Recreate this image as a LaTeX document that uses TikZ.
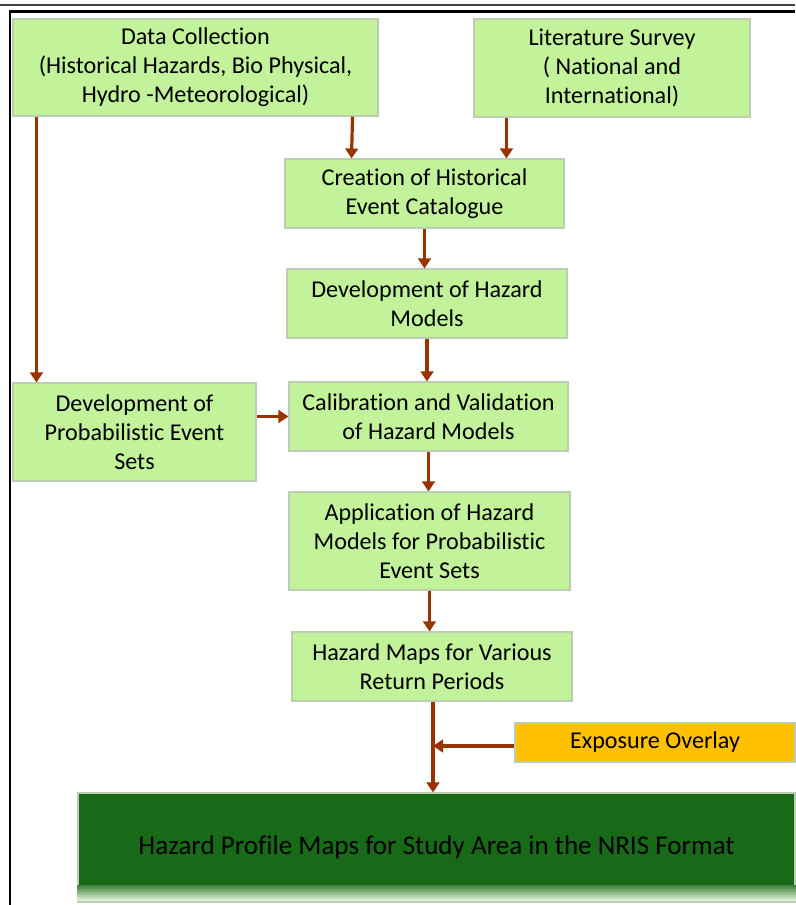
\documentclass[tikz,border=0pt]{standalone}
\usepackage{fontspec}
\setmainfont{Carlito}[Ligatures=NoCommon]
\usetikzlibrary{arrows.meta}
\definecolor{boxgreen}{HTML}{C2F29A}
\definecolor{boxline}{HTML}{BCCDB4}
\definecolor{flowbrown}{HTML}{993300}
\definecolor{expgold}{HTML}{FFC000}
\definecolor{darkgreen}{HTML}{186A18}
\definecolor{palegreen}{HTML}{E4F2D8}
\tikzset{
    stepnode/.style={draw=boxline, line width=0.8pt, fill=boxgreen, align=center,
        inner sep=0pt, font=\fontsize{18.1}{21.8}\selectfont},
    flow/.style={draw=flowbrown, line width=2.4pt, -{Triangle[length=7.5pt,width=9.5pt]}},
}
\begin{document}
\begin{tikzpicture}[x=0.75pt, y=-0.75pt]
                \useasboundingbox (0,0) rectangle (795,905);
                % page frame
                \draw[line width=1.2pt, black!75] (0,5) -- (795,5);
                \draw[line width=1.6pt] (10,905) -- (10,11.5) -- (795,11.5);
                % boxes
                \node[stepnode, minimum width=365*0.75pt, minimum height=97*0.75pt] (datacoll) at (195.5,67.5)
                    {Data Collection\\(Historical Hazards, Bio Physical,\\Hydro -Meteorological)};
                \node[stepnode, minimum width=276*0.75pt, minimum height=98*0.75pt] (litsurvey) at (612,68)
                    {Literature Survey\\( National and\\International)};
                \node[stepnode, minimum width=279*0.75pt, minimum height=69*0.75pt] (catalogue) at (424.5,193.5)
                    {Creation of Historical\\Event Catalogue};
                \node[stepnode, minimum width=280*0.75pt, minimum height=69*0.75pt] (models) at (427,303.5)
                    {Development of Hazard\\Models};
                \node[stepnode, minimum width=243*0.75pt, minimum height=98*0.75pt] (probsets) at (134.5,432)
                    {Development of\\Probabilistic Event\\Sets};
                \node[stepnode, minimum width=279*0.75pt, minimum height=69*0.75pt] (calib) at (428.5,416.5)
                    {Calibration and Validation\\of Hazard Models};
                \node[stepnode, minimum width=281*0.75pt, minimum height=98*0.75pt] (applic) at (429.5,541)
                    {Application of Hazard\\Models for Probabilistic\\Event Sets};
                \node[stepnode, minimum width=280*0.75pt, minimum height=69*0.75pt] (maps) at (432,666.5)
                    {Hazard Maps for Various\\Return Periods};
                \node[stepnode, fill=expgold, minimum width=280*0.75pt, minimum height=39*0.75pt] (exposure) at (655,742.5)
                    {Exposure Overlay};
                \node[draw=boxline, line width=0.8pt, fill=darkgreen, inner sep=0pt,
                    minimum width=717*0.75pt, minimum height=109*0.75pt,
                    font=\fontsize{20.3}{24}\selectfont]
                    (profile) at (436.5,847.5) {Hazard Profile Maps for Study Area in the NRIS Format};
                % fading foot of the last box
                \foreach \k [evaluate=\k as \pct using 80-11*\k] in {0,...,7}
                    \fill[darkgreen!\pct!palegreen]
                        ([yshift=(18-2*\k)*0.75pt]profile.south west) rectangle
                        ([yshift=(15.5-2*\k)*0.75pt]profile.south east);
                \coordinate (join) at (433,746);
                % connectors
                \draw[flow] ([xshift=18pt]datacoll.south west) -- ([xshift=18pt]probsets.north west);
                \draw[flow] ([xshift=-19.5pt]datacoll.south east) -- ([xshift=50.25pt]catalogue.north west);
                \draw[flow] ([xshift=24.75pt]litsurvey.south west) -- ([xshift=166.5pt]catalogue.north west);
                \draw[flow] (catalogue.south) -- (catalogue.south |- models.north);
                \draw[flow] (models.south) -- (models.south |- calib.north);
                \draw[flow] (probsets.east |- calib.west) -- (calib.west);
                \draw[flow] (calib.south) -- (calib.south |- applic.north);
                \draw[flow] (applic.south) -- (applic.south |- maps.north);
                \draw[flow] (maps.south -| join) -- (profile.north -| join);
                \draw[flow] (exposure.west |- join) -- (join);
            \end{tikzpicture}
\end{document}
